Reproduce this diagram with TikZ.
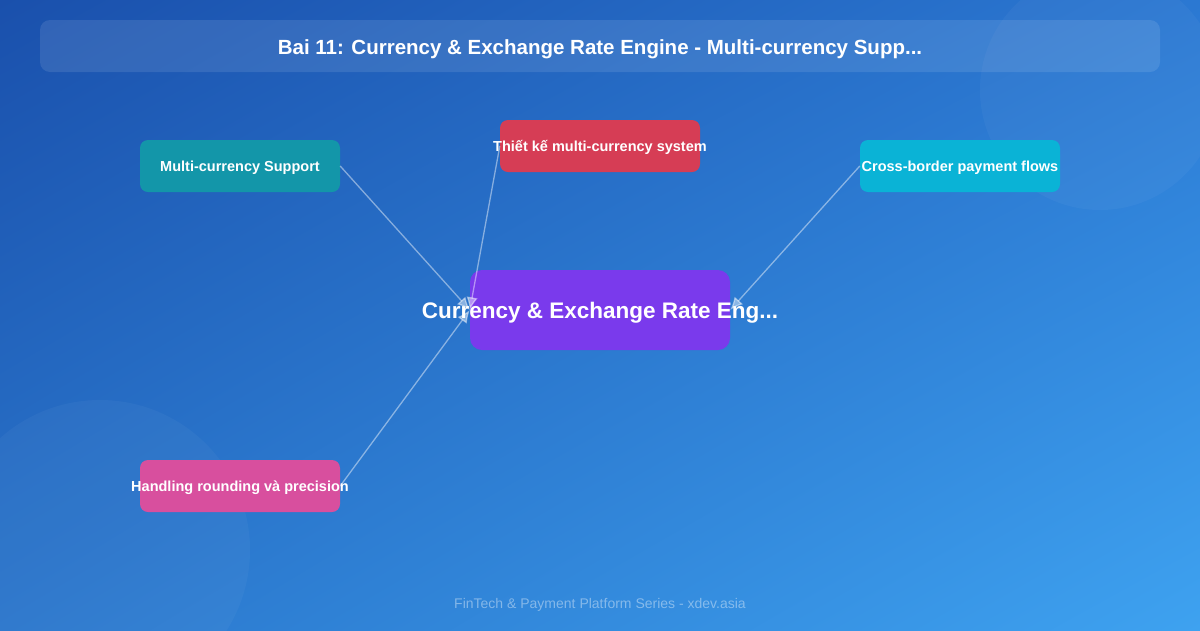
\documentclass[tikz,border=0pt]{standalone}
\usepackage{fontspec}
\setmainfont{Liberation Sans}
\usetikzlibrary{arrows.meta}
\usetikzlibrary{shadings}

\definecolor{bgtl}{HTML}{1A50AC}
\definecolor{bgtr}{HTML}{2B78D2}
\definecolor{bgbl}{HTML}{2A76CC}
\definecolor{bgbr}{HTML}{3EA2F0}
\definecolor{tealbox}{HTML}{1396A9}
\definecolor{redbox}{HTML}{D63D55}
\definecolor{cyanbox}{HTML}{0AB3D6}
\definecolor{purplebox}{HTML}{7A3AEC}
\definecolor{pinkbox}{HTML}{D84F9E}

\newcommand{\nowidth}[1]{\makebox[0pt]{#1}}

\begin{document}
\begin{tikzpicture}[x=1pt,y=-1pt]
        \tikzset{topic/.style = {shape=rectangle,rounded corners=8pt,minimum width=200pt,minimum height=52pt,inner sep=0pt,text=white,text depth=0pt,font=\fontsize{14.5}{16}\selectfont\bfseries}}
        \tikzset{core/.style = {topic,minimum width=260pt,minimum height=80pt,rounded corners=12pt,font=\fontsize{22.5}{26}\selectfont\bfseries}}
        \tikzset{link/.style = {draw=white,opacity=0.45,line width=1.3pt,-{Latex[length=4.5mm,width=4mm]}}}
        % background
        \useasboundingbox (0,0) rectangle (1200,630);
        \shade[upper left=bgtl,upper right=bgtr,lower left=bgbl,lower right=bgbr] (0,0) rectangle (1200,630);
        \fill[white,fill opacity=0.035] (1100,90) circle (120);
        \fill[white,fill opacity=0.035] (100,550) circle (150);
        % title bar
        \fill[white,fill opacity=0.1,rounded corners=10pt] (40,20) rectangle (1160,72);
        \node[text=white,text depth=0pt,font=\fontsize{20.5}{22}\selectfont\bfseries] (title) at (600,47) {Bai 11: Currency \& Exchange Rate Engine - Multi-currency Supp...};
        % topics
        \node[core,fill=purplebox] (engine) at (600,310) {\nowidth{Currency \& Exchange Rate Eng...}};
        \node[topic,fill=tealbox] (support) at (240,166) {\nowidth{Multi-currency Support}};
        \node[topic,fill=redbox] (design) at (600,146) {\nowidth{Thiết kế multi-currency system}};
        \node[topic,fill=cyanbox] (border) at (960,166) {\nowidth{Cross-border payment flows}};
        \node[topic,fill=pinkbox] (rounding) at (240,486) {\nowidth{Handling rounding và precision}};
        \draw[link] (support.east) -- (engine.west);
        \draw[link] (design.west) -- (engine.west);
        \draw[link] (border.west) -- (engine.east);
        \draw[link] (rounding.east) -- (engine.west);
        % footer
        \node[text=white,text opacity=0.4,font=\fontsize{14}{16}\selectfont] (footer) at (600,605) {FinTech \& Payment Platform Series - xdev.asia};
\end{tikzpicture}
\end{document}
